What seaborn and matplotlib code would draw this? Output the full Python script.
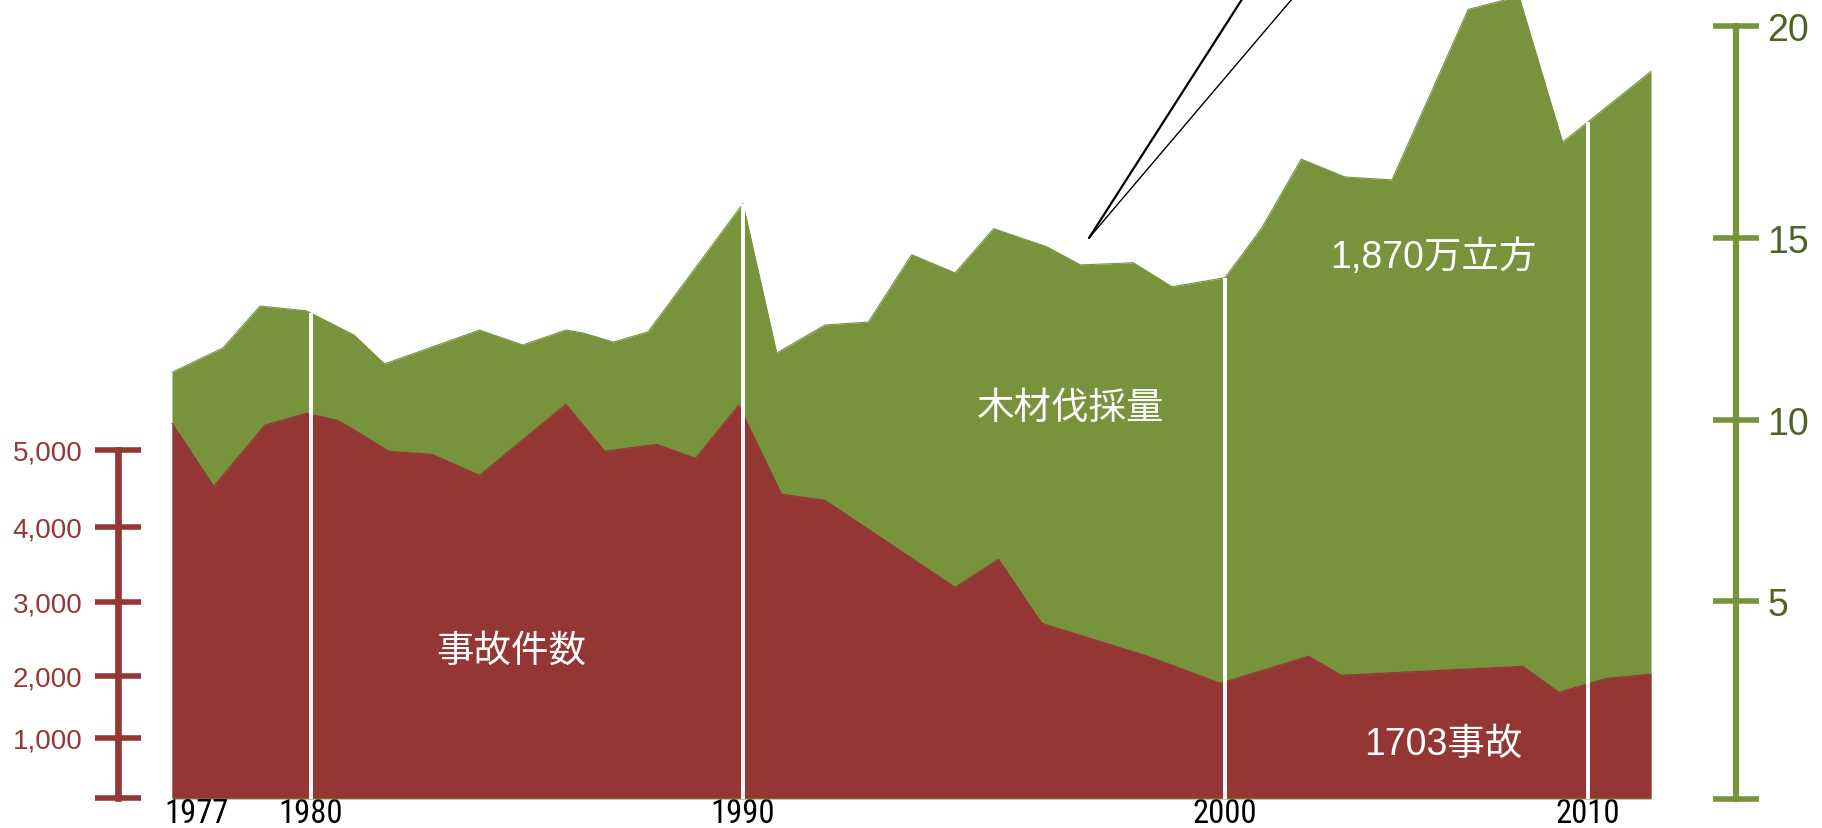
import numpy as np
import matplotlib
matplotlib.use("Agg")
import matplotlib.pyplot as plt
from matplotlib import font_manager
import seaborn as sns

# timber harvest, right axis (million m3)
timber_year = [1977.0, 1978.1, 1978.9, 1979.9, 1981.0, 1981.7, 1983.9, 1984.9, 1985.9, 1986.3,
               1987.0, 1987.8, 1990.0, 1990.7, 1991.7, 1992.6, 1993.5, 1994.4, 1995.2, 1996.3,
               1997.0, 1998.1, 1998.9, 2000.0, 2001.0, 2002.1, 2003.3, 2004.6, 2006.7, 2008.1,
               2009.3, 2010.0, 2011.0]
timber = [11.31, 11.98, 13.13, 13.00, 12.33, 11.54, 12.47, 12.06, 12.47, 12.39,
          12.14, 12.42, 15.81, 11.84, 12.61, 12.69, 14.54, 14.04, 15.22, 14.76,
          14.26, 14.32, 13.66, 13.91, 15.22, 16.86, 16.44, 16.37, 20.39, 20.70,
          17.26, 17.74, 18.93]

# accidents, left axis
accident_year = [1977.0, 1977.9, 1979.0, 1979.9, 1980.6, 1980.9, 1981.8, 1982.8, 1983.9, 1985.9,
                 1986.8, 1988.0, 1988.9, 1989.9, 1990.8, 1991.7, 1994.4, 1995.3, 1996.2, 1998.4,
                 1999.9, 2002.3, 2003.2, 2008.2, 2009.2, 2010.3, 2011.0]
accidents = [5347, 4529, 5321, 5477, 5386, 5295, 4983, 4944, 4671, 5594,
             4983, 5074, 4892, 5581, 4425, 4347, 3196, 3569, 2712, 2266,
             1883, 2266, 2010, 2131, 1738, 1963, 2023]

decades = [1980, 1990, 2000, 2010]
first_year = 1977
left_ticks = [0, 1000, 2000, 3000, 4000, 5000]
left_labels = ["", "1,000", "2,000", "3,000", "4,000", "5,000"]
right_ticks = [0, 5, 10, 15, 20]
right_labels = ["", "5", "10", "15", "20"]

RED = "#943634"
RED_TEXT = "#953735"
GREEN = "#77933c"
GREEN_DARK = "#4f6228"

# the original axes are hand drawn with uneven spacing -> piecewise scales (pixel positions)
YEAR_KNOTS = [1970, 1977, 1980, 1990, 2000, 2010, 2011, 2020]
YEAR_PX = [-152, 172, 311, 743, 1225, 1588, 1651, 2218]
ACC_KNOTS = [-1000, 0, 1000, 2000, 3000, 4000, 5000, 12000]
ACC_PX = [857, 799, 739, 677, 603, 528, 451, -88]
TIMBER_KNOTS = [-5, 0, 5, 10, 15, 20, 30]
TIMBER_PX = [998, 800, 602, 421, 239, 27, -398]


def piecewise(knots, pos):
    knots = np.asarray(knots, float)
    pos = np.asarray(pos, float)
    return (lambda v: np.interp(v, knots, pos)), (lambda t: np.interp(t, pos, knots))


def has_font(name):
    try:
        font_manager.findfont(font_manager.FontProperties(family=name), fallback_to_default=False)
        return True
    except ValueError:
        return False


sns.set_theme(style="white")
plt.rcParams["font.family"] = ["Liberation Sans", "Noto Sans CJK JP"]

# year labels use a narrow face in the original
year_font, year_size = "Liberation Sans", 22
for name, size in [("Liberation Sans Narrow", 24), ("Roboto Condensed", 23.5)]:
    if has_font(name):
        year_font, year_size = name, size
        break

W, H = 1822, 829
fig = plt.figure(figsize=(W / 100, H / 100), dpi=100)
ax_g = fig.add_axes([0, (H - 800) / H, 1, 800 / H])

fx, ix = piecewise(YEAR_KNOTS, YEAR_PX)
ax_g.set_xscale("function", functions=(fx, ix))
fg, ig = piecewise(TIMBER_KNOTS, -np.asarray(TIMBER_PX, float))
ax_g.set_yscale("function", functions=(fg, ig))

ax_r = ax_g.twinx()
fr, ir = piecewise(ACC_KNOTS, -np.asarray(ACC_PX, float))
ax_r.set_yscale("function", functions=(fr, ir))

# timber area (below)
ax_g.fill_between(timber_year, 0, timber, color=GREEN, lw=0)
sns.lineplot(x=timber_year, y=timber, ax=ax_g, color=GREEN, lw=0.8, estimator=None)

# accidents area (on top)
ax_r.fill_between(accident_year, 0, accidents, color=RED, lw=0, zorder=1)
sns.lineplot(x=accident_year, y=accidents, ax=ax_r, color=RED, lw=0.8, estimator=None)

# white decade lines cutting through both areas
tops = np.interp(decades, timber_year, timber)
ax_r.vlines(decades, 0, tops, colors="white", lw=2.8, transform=ax_g.transData, zorder=3)

# labels inside the areas
txt = dict(color="white", fontsize=27, ha="center", va="center", transform=ax_r.transAxes, zorder=4)
ax_r.text(511 / W, (800 - 652) / 800, "事故件数", **txt)
ax_r.text(1071 / W, (800 - 409) / 800, "木材伐採量", **txt)
ax_r.text(1433 / W, (800 - 258) / 800, "1,870万立方", **txt)
ax_r.text(1443 / W, (800 - 745) / 800, "1703事故", **txt)

# leader lines running off the top
x0, y0 = 1089 / W, (800 - 239) / 800
ax_r.plot([x0, 1255 / W], [y0, 1.025], color="black", lw=1.6, transform=ax_r.transAxes, clip_on=False)
ax_r.plot([x0, 1309 / W], [y0, 1.025], color="black", lw=1.0, transform=ax_r.transAxes, clip_on=False)

# limits
ax_g.set_xlim(ix(0), ix(W))
ax_g.set_ylim(ig(-800), ig(0))
ax_r.set_ylim(ir(-800), ir(0))

# x axis: decade ticks, first year label sits a little right of the area start
ax_g.set_xticks(decades)
ax_g.set_xticklabels([str(y) for y in decades], fontsize=year_size, color="black",
                     fontfamily=year_font)
ax_g.tick_params(axis="x", length=0, pad=-1.5)
ax_g.annotate(str(first_year), xy=(first_year, 0), xycoords=("data", "axes fraction"),
              xytext=(25, 2), textcoords="offset pixels", ha="center", va="top",
              fontsize=year_size, color="black", fontfamily=year_font, annotation_clip=False)

# right axis (timber)
ax_g.yaxis.tick_right()
ax_g.set_yticks(right_ticks)
ax_g.set_yticklabels(right_labels)
ax_g.tick_params(axis="y", direction="inout", length=33, width=4, color=GREEN,
                 labelcolor=GREEN_DARK, labelsize=27, pad=6)
for side in ["top", "bottom", "left"]:
    ax_g.spines[side].set_visible(False)
ax_g.spines["right"].set_position(("axes", 1736 / W))
ax_g.spines["right"].set_bounds(0, 20)
ax_g.spines["right"].set_color(GREEN)
ax_g.spines["right"].set_linewidth(4.5)
ax_g.set_ylabel("")
ax_g.grid(False)

# left axis (accidents)
ax_r.yaxis.tick_left()
ax_r.set_yticks(left_ticks)
ax_r.set_yticklabels(left_labels)
ax_r.tick_params(axis="y", direction="inout", length=33, width=4, color=RED_TEXT,
                 labelcolor=RED_TEXT, labelsize=20, pad=9)
for side in ["top", "bottom", "right"]:
    ax_r.spines[side].set_visible(False)
ax_r.spines["left"].set_position(("axes", 118 / W))
ax_r.spines["left"].set_bounds(0, 5000)
ax_r.spines["left"].set_color(RED_TEXT)
ax_r.spines["left"].set_linewidth(4.8)
ax_r.set_ylabel("")
ax_r.grid(False)

fig.savefig("out.png", dpi=100)
plt.close(fig)
